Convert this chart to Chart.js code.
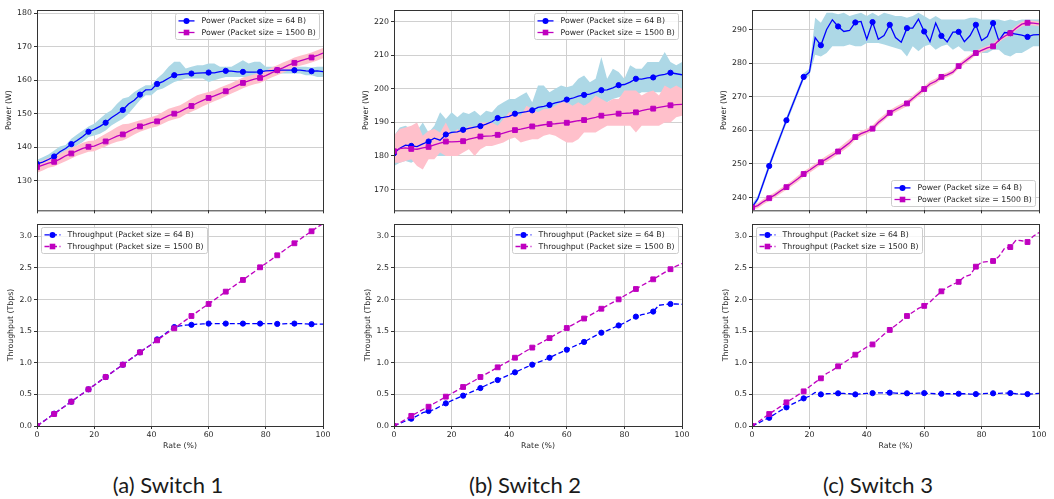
<!DOCTYPE html>
<html>
<head>
<meta charset="utf-8">
<script src="https://cdn.jsdelivr.net/npm/chart.js@4.4.1/dist/chart.umd.min.js"></script>
<style>
html,body{margin:0;padding:0;background:#fff;}
body{width:1054px;height:499px;position:relative;overflow:hidden;}
canvas{position:absolute;}
.cap{position:absolute;top:474px;font-family:Lato,"Open Sans",sans-serif;font-size:22px;line-height:22px;color:#1a1a1a;transform:translateX(-50%);white-space:nowrap;}
</style>
</head>
<body>
<div class="cap" style="left:168px">(a) Switch 1</div>
<div class="cap" style="left:525px">(b) Switch 2</div>
<div class="cap" style="left:878px">(c) Switch 3</div>
<script>
// ---------- data ----------
const rates = [0,2,4,6,8,10,12,14,16,18,20,22,24,26,28,30,32,34,36,38,40,42,44,46,48,50,52,54,56,58,60,62,64,66,68,70,72,74,76,78,80,82,84,86,88,90,92,94,96,98,100];
const rateTicks = [0,20,40,60,80,100];

const labelPower64 = 'Power (Packet size = 64 B)';
const labelPower1500 = 'Power (Packet size = 1500 B)';
const labelThr64 = 'Throughput (Packet size = 64 B)';
const labelThr1500 = 'Throughput (Packet size = 1500 B)';

// Switch 1
const s1PowerTicks = [130,140,150,160,170,180];
const s1Power64 = [135.0,135.5,136.3,137.2,138.6,139.6,140.9,142.0,143.2,144.6,145.3,146.2,147.3,148.8,149.9,151.1,152.9,154.0,155.7,157.1,157.2,158.9,159.6,160.6,161.5,161.7,161.9,162.0,162.1,162.2,162.3,162.2,162.6,162.8,162.7,162.5,162.5,162.4,162.4,162.5,162.8,162.9,163.0,163.0,163.0,163.0,163.0,162.8,162.7,162.8,162.6];
const s1Power64Hi = [136.2,137.0,137.8,139.0,140.2,140.6,142.5,143.8,145.0,146.2,147.0,148.5,150.0,151.0,153.0,154.5,155.0,156.5,157.5,158.5,158.5,160.5,162.0,164.0,165.5,165.5,163.5,164.0,164.5,164.5,165.0,165.0,164.0,164.0,164.0,165.0,166.0,165.0,165.5,165.5,164.0,164.0,164.0,164.0,164.0,164.0,164.0,164.0,163.8,164.0,164.0];
const s1Power64Lo = [133.5,134.2,135.0,135.8,136.8,137.5,139.2,140.5,141.5,143.0,143.5,144.0,145.0,146.5,147.5,148.5,150.0,152.0,154.0,155.5,155.5,157.0,157.5,158.5,159.5,160.0,160.5,160.5,160.5,160.5,159.5,160.0,160.5,161.0,161.0,161.0,161.0,161.0,161.0,161.0,161.5,161.5,162.0,162.0,162.0,162.0,162.0,161.5,161.5,161.0,161.0];
const s1Power1500 = [134.0,134.6,135.2,135.6,136.4,137.4,138.1,138.9,139.6,140.1,140.3,141.0,141.7,142.5,143.3,143.8,144.7,145.5,146.2,146.7,147.3,147.7,148.6,149.4,150.0,150.6,151.5,152.3,153.2,154.0,154.7,155.3,156.0,156.7,157.6,158.4,159.2,159.8,160.3,160.7,161.4,162.2,163.0,163.7,164.5,165.2,165.8,166.3,166.8,167.4,168.1];
const s1Power1500Hi = [135.5,136.0,136.8,137.2,138.0,139.0,139.8,140.5,141.3,141.8,142.0,143.0,144.0,145.0,146.0,146.8,147.0,147.5,148.0,148.5,149.0,149.5,150.5,151.5,152.0,152.5,153.5,154.5,155.5,156.0,156.5,157.0,157.8,158.5,159.2,160.0,160.8,161.3,161.8,162.2,162.8,163.8,164.5,165.3,166.0,166.8,167.3,167.8,168.3,169.0,169.6];
const s1Power1500Lo = [132.3,133.0,133.8,134.2,135.0,135.8,136.6,137.4,138.0,138.6,138.8,139.5,140.2,141.0,141.6,142.0,142.8,143.8,144.6,145.2,145.8,146.2,147.0,147.8,148.3,148.8,149.8,150.6,151.3,152.2,153.0,153.7,154.4,155.2,156.0,156.8,157.6,158.3,158.8,159.2,160.0,160.8,161.5,162.2,163.0,163.7,164.3,164.8,165.3,165.9,166.6];
const s1Thr64 = [0,0.065,0.13,0.195,0.26,0.32,0.385,0.45,0.515,0.58,0.645,0.71,0.775,0.84,0.905,0.97,1.035,1.10,1.165,1.23,1.29,1.37,1.43,1.50,1.565,1.585,1.595,1.60,1.61,1.615,1.62,1.62,1.62,1.62,1.62,1.62,1.62,1.62,1.62,1.62,1.62,1.62,1.615,1.615,1.62,1.62,1.62,1.615,1.61,1.61,1.61];
const s1Thr1500 = [0,0.064,0.128,0.19,0.256,0.32,0.385,0.45,0.515,0.58,0.645,0.71,0.775,0.84,0.905,0.97,1.035,1.10,1.165,1.23,1.29,1.355,1.42,1.485,1.545,1.61,1.675,1.74,1.805,1.87,1.93,1.995,2.06,2.125,2.185,2.25,2.31,2.375,2.44,2.51,2.57,2.635,2.70,2.765,2.83,2.89,2.955,3.02,3.08,3.145,3.20];

// Switch 2
const s2PowerTicks = [170,180,190,200,210,220];
const s2Power64 = [180.8,182.3,183.2,183.0,182.8,183.6,184.3,185.3,184.7,186.4,187.0,187.2,187.8,188.2,188.6,188.9,189.5,190.2,191.3,191.5,191.8,192.6,192.9,193.2,193.6,194.5,194.8,195.2,195.8,196.2,196.8,197.2,197.8,198.2,198.4,199.0,199.6,199.7,200.3,201.1,201.3,202.0,203.0,202.9,203.3,203.4,204.0,204.3,204.8,204.5,204.2];
const s2Power64Hi = [186,188.5,189,188,187.5,190,187,189,193,191,193,191.5,193,192.5,193.5,192,193.5,193,195,196,197,197,198,199,196,201,201,199,200,201,200.5,201,203,204,202,203,209.5,203,206,205,203,207,206,206,208,208,208,211,208,207,208];
const s2Power64Lo = [177,178,178.5,178,179,180,179,180,180,180,182,183,184,184,185,186,186,186,187,188,189,188.5,189,189.5,190,191,191,192,193,194,194,194,193.5,195,195,196,196,196,197,197.5,198,198,198,199,199,199,199,199,199.5,200,198.5];
const s2Power1500 = [181.4,182.2,182.4,182.1,182.0,182.4,182.7,183.3,183.8,184.3,184.2,184.3,184.4,185.0,185.4,185.8,185.9,186.0,186.3,186.8,187.3,187.7,188.0,188.4,188.8,189.0,189.3,189.5,189.6,189.8,189.9,190.2,190.5,190.7,191.1,191.5,192.0,192.2,192.4,192.6,192.7,192.8,193.0,193.5,193.9,194.1,194.5,194.8,195.1,195.3,195.4];
const s2Power1500Hi = [186,188,188.5,189,190,186,187.5,188,187,190,186.5,188,187,189,188.5,190,190,190,189,191,193,193,192,195,194,193,194,194,195,196,196,195,196,195,196,198,197,196,197,197,199.5,199.5,199.5,198,199,199.5,198,201,200,201,200];
const s2Power1500Lo = [178,178,178.5,179,177,176,179,179,181,180,180,180,181,182,180,182,183,183,183.5,184,185,185.5,184,184.5,185,185,186,186.5,186,185,184,184,185,187,187,187,188,189,189,189,189,189,187,189,189,189,189,190,190,191.5,192];
const s2Thr64 = [0,0.04,0.08,0.116,0.16,0.21,0.237,0.26,0.31,0.358,0.40,0.44,0.48,0.52,0.56,0.60,0.645,0.685,0.727,0.77,0.81,0.849,0.89,0.93,0.97,1.005,1.04,1.08,1.125,1.165,1.207,1.25,1.29,1.33,1.38,1.43,1.476,1.51,1.55,1.59,1.63,1.68,1.73,1.76,1.78,1.81,1.91,1.92,1.93,1.93,1.925];
const s2Thr1500 = [0,0.05,0.105,0.16,0.21,0.26,0.305,0.36,0.41,0.464,0.515,0.565,0.617,0.67,0.72,0.775,0.825,0.875,0.928,0.98,1.03,1.08,1.135,1.19,1.24,1.29,1.34,1.39,1.445,1.495,1.55,1.60,1.65,1.70,1.75,1.80,1.855,1.905,1.955,2.003,2.06,2.11,2.167,2.22,2.27,2.32,2.375,2.43,2.48,2.53,2.57];

// Switch 3
const s3PowerTicks = [240,250,260,270,280,290];
const s3Power64 = [237.1,239.6,244.5,249.4,254.0,258.5,263.0,267.3,271.6,275.9,277.3,287.6,285.3,290.0,292.9,290.9,289.4,289.7,292.1,292.4,287.1,292.2,287.1,288.2,291.4,287.6,286.2,290.4,290.4,293.1,289.4,286.4,291.9,288.1,286.3,289.2,289.3,286.4,288.2,291.4,286.7,287.9,291.9,286.7,289.1,288.9,288.6,288.3,287.8,288.4,288.5];
const s3Power64Hi = [238.0,240.5,245.5,250.5,255.0,259.5,264.0,268.3,272.6,277.0,278.3,293.5,292.0,295.0,295.0,294.5,295.0,294.0,294.5,295.0,294.0,295.0,294.0,295.0,294.5,294.0,294.0,293.5,294.0,295.0,294.0,293.0,294.0,293.0,293.0,293.0,293.0,293.0,293.5,293.5,293.0,293.0,293.0,293.0,292.5,293.0,292.5,293.0,293.0,293.0,293.0];
const s3Power64Lo = [236.3,238.8,243.5,248.4,253.0,257.5,262.0,266.3,270.6,275.0,276.3,282.5,282.0,283.0,285.0,285.0,285.0,285.5,285.0,285.0,286.0,286.0,286.0,285.5,285.0,284.5,284.0,282.0,285.0,283.5,285.0,285.5,284.0,285.0,285.5,284.0,285.0,283.5,283.5,283.0,283.0,283.0,284.0,284.0,282.5,282.0,283.0,283.0,284.0,285.0,285.0];
const s3Power1500 = [237.0,237.6,238.8,239.8,240.8,242.0,243.1,244.3,245.6,247.0,248.1,249.3,250.5,251.5,252.6,253.7,255.0,256.3,258.0,259.0,259.7,260.5,262.3,263.7,265.2,266.2,267.1,268.0,269.5,270.9,272.3,273.8,274.6,275.9,276.5,277.3,279.1,280.4,281.7,283.0,283.8,284.5,285.0,286.8,288.0,288.9,290.4,291.6,292.0,291.9,291.7];
const s3Power1500Hi = [237.8,238.4,239.6,240.6,241.6,242.8,243.9,245.1,246.5,247.8,248.9,250.1,251.3,252.4,253.5,254.6,256.0,257.4,258.8,259.8,260.5,261.4,263.2,264.6,266.0,267.0,267.9,268.9,270.3,271.7,273.1,274.6,275.4,276.6,277.2,278.1,279.9,281.2,282.5,283.7,284.5,285.2,285.8,287.5,288.7,289.6,291.1,292.3,292.7,292.6,292.4];
const s3Power1500Lo = [236.3,236.8,238.0,239.0,240.0,241.2,242.3,243.5,244.7,246.2,247.3,248.5,249.7,250.6,251.7,252.9,254.1,255.3,257.2,258.2,258.9,259.7,261.5,262.9,264.4,265.4,266.3,267.2,268.7,270.1,271.5,273.0,273.8,275.1,275.8,276.6,278.3,279.6,280.9,282.3,283.1,283.8,284.3,286.1,287.3,288.2,289.7,290.9,291.3,291.2,291.0];
const s3Thr64 = [0,0.04,0.09,0.13,0.19,0.245,0.295,0.345,0.39,0.437,0.47,0.53,0.50,0.51,0.515,0.517,0.515,0.51,0.50,0.51,0.515,0.52,0.525,0.525,0.527,0.52,0.515,0.517,0.515,0.52,0.52,0.515,0.51,0.51,0.51,0.51,0.51,0.51,0.505,0.505,0.51,0.515,0.517,0.515,0.52,0.52,0.51,0.505,0.505,0.51,0.515];
const s3Thr1500 = [0,0.06,0.125,0.19,0.25,0.31,0.374,0.43,0.49,0.548,0.62,0.69,0.754,0.83,0.88,0.944,1.00,1.06,1.128,1.19,1.25,1.29,1.37,1.45,1.52,1.59,1.66,1.74,1.80,1.86,1.90,1.96,2.05,2.13,2.19,2.24,2.28,2.36,2.39,2.52,2.59,2.60,2.61,2.68,2.81,2.83,2.94,2.93,2.91,3.00,3.06];

const thrTicks = [0,0.5,1.0,1.5,2.0,2.5,3.0];

// ---------- styling / layout ----------
const BLUE = '#0000ff', MAG = '#bf00bf', LBLUE = '#add8e6', PINK = '#ffc0cb';
const TXT = '#262626', SPINE = '#333333', GRID = '#d0d0d0';
const FONT = {family: 'DejaVu Sans', size: 7.8, lineHeight: 1.2};
const cols = [{L:37,R:323},{L:394,R:682},{L:752,R:1039}];
const rowTop = {T:10,B:211,XH:6,bottom:false};
const rowBot = {T:224,B:426,XH:26,bottom:true};
const YW = 40, PT = 8, PR = 14;
const CIRCLE_R = 2.6, SQUARE_R = 3.4;

const framePlugin = {
  id: 'frame',
  afterDatasetsDraw(chart) {
    const {ctx, chartArea: a} = chart;
    ctx.save();
    ctx.strokeStyle = SPINE; ctx.lineWidth = 1;
    ctx.strokeRect(a.left + 0.5, a.top + 0.5, a.right - a.left, a.bottom - a.top);
    ctx.restore();
  }
};

const boxLegend = {
  id: 'boxLegend',
  afterDraw(chart, args, opts) {
    const {ctx, chartArea: a} = chart;
    const items = chart.data.datasets.filter(d => d.inLegend);
    ctx.save();
    ctx.font = FONT.size + 'px "DejaVu Sans"';
    const tw = Math.max(...items.map(d => ctx.measureText(d.label).width));
    const w = Math.round(tw + 30), h = 26;
    let x0, y0;
    if (opts.corner === 'ul') { x0 = a.left + 4; y0 = a.top + 3; }
    else if (opts.corner === 'lr') { x0 = a.right - 4 - w; y0 = a.bottom - 4 - h; }
    else { x0 = a.right - 4 - w; y0 = a.top + 3; }
    x0 = Math.round(x0) + 0.5; y0 = Math.round(y0) + 0.5;
    ctx.beginPath();
    ctx.roundRect(x0, y0, w, h, 2);
    ctx.fillStyle = 'rgba(255,255,255,0.8)'; ctx.fill();
    ctx.strokeStyle = '#cccccc'; ctx.lineWidth = 1; ctx.stroke();
    items.forEach((d, i) => {
      const cy = y0 + 7.4 + i * 11.6;
      ctx.beginPath();
      ctx.setLineDash(d.borderDash || []);
      ctx.strokeStyle = d.borderColor; ctx.lineWidth = d.borderWidth;
      ctx.moveTo(x0 + 3, cy); ctx.lineTo(x0 + 19, cy); ctx.stroke();
      ctx.setLineDash([]);
      ctx.fillStyle = d.borderColor;
      ctx.beginPath();
      if (d.pointStyle === 'circle') ctx.arc(x0 + 11, cy, 3.0, 0, Math.PI * 2);
      else ctx.rect(x0 + 11 - 2.8, cy - 2.8, 5.6, 5.6);
      ctx.fill();
      ctx.fillStyle = TXT; ctx.textBaseline = 'middle'; ctx.textAlign = 'left';
      ctx.fillText(d.label, x0 + 26, cy + 0.5);
    });
    ctx.restore();
  }
};

function pts(vals) { return rates.map((x, i) => ({x: x, y: vals[i]})); }

function lineDs(label, vals, color, style, dashed, order) {
  const r = style === 'circle' ? CIRCLE_R : SQUARE_R;
  return {
    label, data: pts(vals), inLegend: true,
    borderColor: color, backgroundColor: color, borderWidth: 1.3,
    borderDash: dashed ? [5, 2.5] : [],
    pointStyle: style, pointRadius: c => (c.dataIndex % 3 === 0 ? r : 0),
    pointBorderWidth: 1, pointBackgroundColor: color, pointBorderColor: color,
    fill: false, tension: 0, order
  };
}
function bandDs(hi, lo, color, order) {
  return [
    {label: 'hi', data: pts(hi), borderWidth: 0, borderColor: 'rgba(0,0,0,0)', pointRadius: 0, fill: '+1', backgroundColor: color, order, tension: 0},
    {label: 'lo', data: pts(lo), borderWidth: 0, borderColor: 'rgba(0,0,0,0)', pointRadius: 0, fill: false, order, tension: 0}
  ];
}

function build(col, row, datasets, yMin, yMax, yTicks, yTitle, yFmt, titleDist, corner) {
  const cv = document.createElement('canvas');
  const w = YW + (col.R - col.L) + PR, h = PT + (row.B - row.T) + row.XH;
  cv.width = w; cv.height = h;
  cv.style.width = w + 'px'; cv.style.height = h + 'px';
  cv.style.left = (col.L - YW) + 'px'; cv.style.top = (row.T - PT) + 'px';
  document.body.appendChild(cv);
  new Chart(cv, {
    type: 'line',
    data: {datasets},
    plugins: [framePlugin, boxLegend],
    options: {
      responsive: false, animation: false, devicePixelRatio: 1,
      layout: {padding: {top: PT, right: PR, left: 0, bottom: 0}},
      plugins: {legend: {display: false}, tooltip: {enabled: false}, boxLegend: {corner}},
      scales: {
        x: {
          type: 'linear', min: 0, max: 100,
          afterBuildTicks: s => { s.ticks = rateTicks.map(v => ({value: v})); },
          afterFit: s => { s.height = row.XH; },
          ticks: {display: row.bottom, font: FONT, color: TXT, padding: 1.5, maxRotation: 0, callback: v => String(v)},
          grid: {color: GRID, lineWidth: 1, tickColor: SPINE, tickLength: 3, drawTicks: true},
          border: {display: false},
          title: {display: row.bottom, text: 'Rate (%)', font: FONT, color: TXT, padding: {top: 0, bottom: 1.6}}
        },
        y: {
          type: 'linear', min: yMin, max: yMax,
          afterBuildTicks: s => { s.ticks = yTicks.map(v => ({value: v})); },
          afterFit: s => { s.width = YW; },
          ticks: {font: FONT, color: TXT, padding: 2, callback: yFmt},
          grid: {color: GRID, lineWidth: 1, tickColor: SPINE, tickLength: 3},
          border: {display: false},
          title: {display: true, text: yTitle, font: FONT, color: TXT, padding: {top: YW - titleDist - 4.68, bottom: 0}}
        }
      }
    }
  });
}

const fmtInt = v => String(v);
const fmt1 = v => v.toFixed(1);

function powerSets(m64, hi64, lo64, m1500, hi1500, lo1500) {
  return [
    ...bandDs(hi64, lo64, LBLUE, 4),
    ...bandDs(hi1500, lo1500, PINK, 3),
    lineDs(labelPower64, m64, BLUE, 'circle', false, 2),
    lineDs(labelPower1500, m1500, MAG, 'rect', false, 1)
  ];
}
function thrSets(t64, t1500) {
  return [
    lineDs(labelThr64, t64, BLUE, 'circle', true, 2),
    lineDs(labelThr1500, t1500, MAG, 'rect', true, 1)
  ];
}

build(cols[0], rowTop, powerSets(s1Power64, s1Power64Hi, s1Power64Lo, s1Power1500, s1Power1500Hi, s1Power1500Lo), 121.1, 181.0, s1PowerTicks, 'Power (W)', fmtInt, 28, 'ur');
build(cols[1], rowTop, powerSets(s2Power64, s2Power64Hi, s2Power64Lo, s2Power1500, s2Power1500Hi, s2Power1500Lo), 163.8, 223.5, s2PowerTicks, 'Power (W)', fmtInt, 28, 'ur');
build(cols[2], rowTop, powerSets(s3Power64, s3Power64Hi, s3Power64Lo, s3Power1500, s3Power1500Hi, s3Power1500Lo), 236.2, 295.8, s3PowerTicks, 'Power (W)', fmtInt, 28, 'lr');
build(cols[0], rowBot, thrSets(s1Thr64, s1Thr1500), 0, 3.195, thrTicks, 'Throughput (Tbps)', fmt1, 26, 'ul');
build(cols[1], rowBot, thrSets(s2Thr64, s2Thr1500), 0, 3.195, thrTicks, 'Throughput (Tbps)', fmt1, 26, 'ur');
build(cols[2], rowBot, thrSets(s3Thr64, s3Thr1500), 0, 3.195, thrTicks, 'Throughput (Tbps)', fmt1, 26, 'ul');
</script>
</body>
</html>
